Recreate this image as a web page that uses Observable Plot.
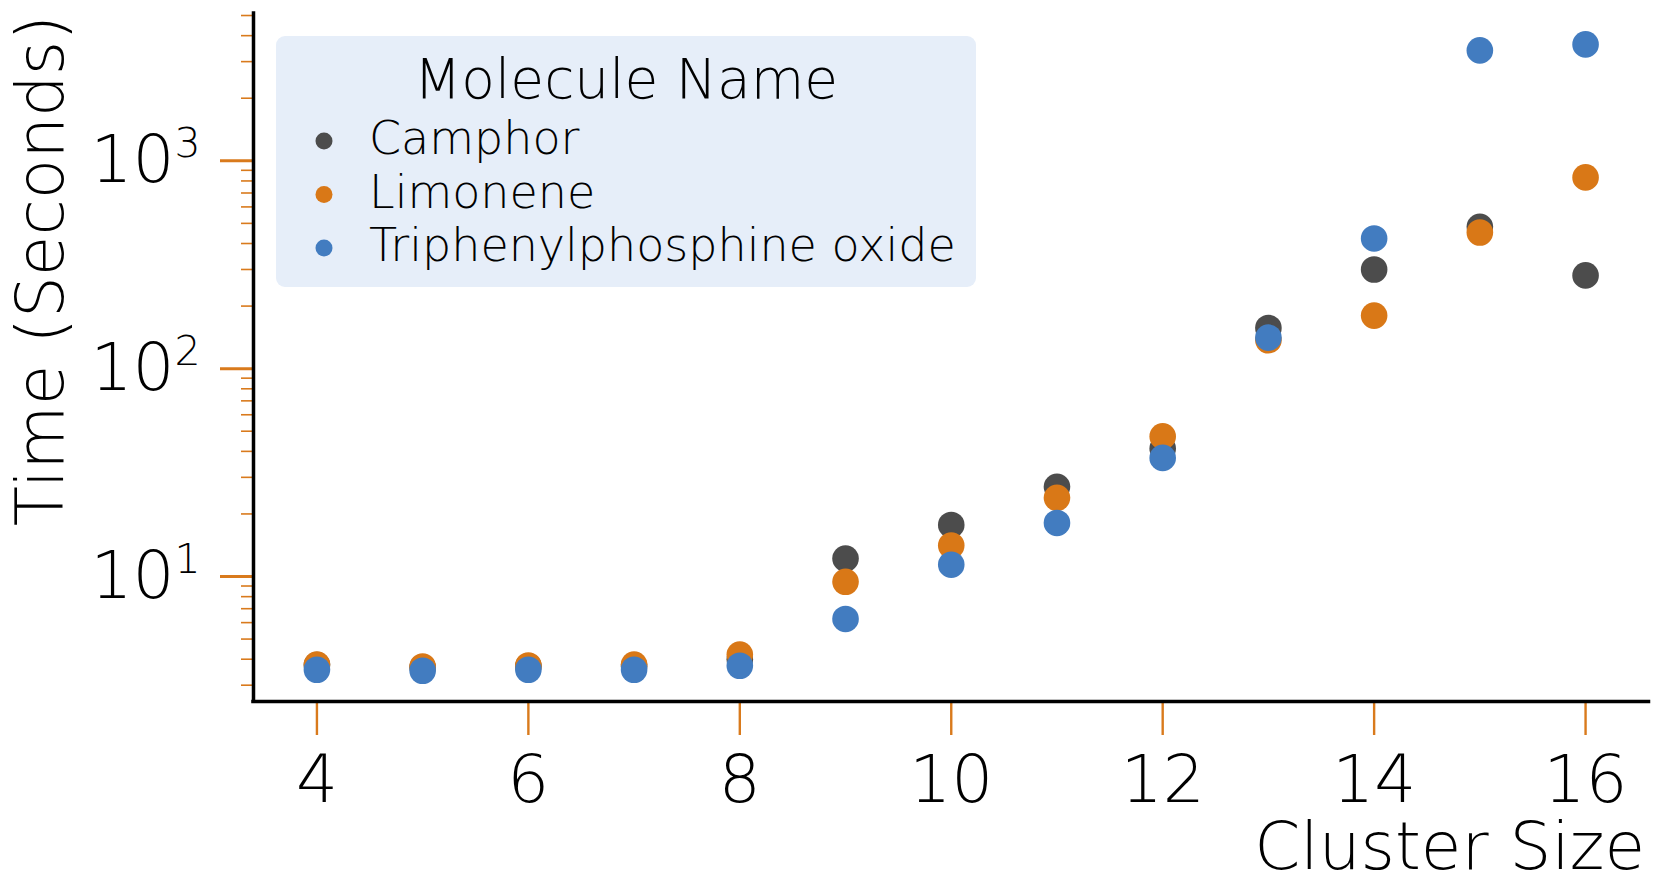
<!DOCTYPE html>
<html>
<head>
<meta charset="utf-8">
<script src="https://cdn.jsdelivr.net/npm/d3@7"></script>
<script src="https://cdn.jsdelivr.net/npm/@observablehq/plot@0.6"></script>
<style>
  html, body { margin: 0; padding: 0; background: #ffffff; }
  #chart { width: 1660px; height: 885px; }
  #chart svg text { font-weight: 200; }
</style>
</head>
<body>
<div id="chart"></div>
<script>
// ---- data ----
const clusterSizes = [4, 5, 6, 7, 8, 9, 10, 11, 12, 13, 14, 15, 16];
const moleculeNames = ["Camphor", "Limonene", "Triphenylphosphine oxide"];
const camphorTimes   = [3.75, 3.65, 3.7, 3.7, 4.0, 12.2, 17.7, 27.0, 41.2, 157, 300, 481, 281];
const limoneneTimes  = [3.77, 3.69, 3.73, 3.77, 4.21, 9.43, 14.1, 23.9, 47.2, 137, 180, 452, 832];
const tppoTimes      = [3.56, 3.52, 3.56, 3.56, 3.72, 6.25, 11.4, 18.1, 37.2, 141, 423, 3397, 3631];
const xTicks = [4, 6, 8, 10, 12, 14, 16];
const yMajorTicks = [10, 100, 1000];
const yMinorTicks = [3, 4, 5, 6, 7, 8, 9, 20, 30, 40, 50, 60, 70, 80, 90,
                     200, 300, 400, 500, 600, 700, 800, 900, 2000, 3000, 4000, 5000];
const seriesColors = ["#4c4c4c", "#d97817", "#427cc0"];
const tickColor = "#d97a1c";
const xTitle = "Cluster Size";
const yTitle = "Time (Seconds)";
const legendTitle = "Molecule Name";

const seriesValues = [camphorTimes, limoneneTimes, tppoTimes];
const rows = [];
moleculeNames.forEach((name, i) => {
  clusterSizes.forEach((s, j) => rows.push({size: s, time: seriesValues[i][j], name}));
});

const xDomain = [3.4, 16.6];
const yDomain = [2.504, 5113];
const font = "DejaVu Sans";

const plot = Plot.plot({
  width: 1660,
  height: 885,
  marginLeft: 253,
  marginRight: 11.5,
  marginTop: 13,
  marginBottom: 184,
  style: {fontFamily: font, fontSize: "66px", background: "#ffffff", color: "#000000"},
  x: {domain: xDomain},
  y: {type: "log", domain: yDomain},
  color: {domain: moleculeNames, range: seriesColors},
  marks: [
    Plot.axisX({ticks: xTicks, tickSize: 34, tickPadding: 20, stroke: tickColor, strokeWidth: 2.4,
                fill: "#000000", fontSize: 66, label: null, tickFormat: d => String(d)}),
    Plot.axisY({ticks: yMinorTicks, tickSize: 12, stroke: tickColor, strokeWidth: 1.6,
                tickFormat: () => "", label: null}),
    Plot.axisY({ticks: yMajorTicks, tickSize: 33, tickPadding: 20, stroke: tickColor, strokeWidth: 3,
                fill: "#000000", fontSize: 66, label: null,
                tickFormat: d => "10^" + Math.round(Math.log10(d))}),
    Plot.ruleX([xDomain[0]], {stroke: "#000000", strokeWidth: 3.5, strokeLinecap: "square"}),
    Plot.ruleY([yDomain[0]], {stroke: "#000000", strokeWidth: 3.5, strokeLinecap: "square"}),
    Plot.dot(rows, {x: "size", y: "time", fill: "name", r: 13.3})
  ]
});

document.getElementById("chart").appendChild(plot);
const svg = d3.select(plot);

// superscript exponent on y tick labels
svg.selectAll("text").each(function() {
  const t = d3.select(this);
  const s = t.text();
  const m = /^10\^(\d+)$/.exec(s);
  if (m) {
    t.text("");
    t.append("tspan").text("10");
    t.append("tspan").attr("font-size", "41px").attr("dy", "-25px").text(m[1]);
  }
});

// axis titles
svg.append("text")
  .attr("x", 1645).attr("y", 869)
  .attr("text-anchor", "end")
  .attr("font-family", font).attr("font-size", 66).attr("fill", "#000")
  .text(xTitle);

svg.append("text")
  .attr("transform", "translate(63,15) rotate(-90)")
  .attr("text-anchor", "end")
  .attr("font-family", font).attr("font-size", 66).attr("fill", "#000")
  .text(yTitle);

// legend
const lg = svg.append("g");
lg.append("rect")
  .attr("x", 276).attr("y", 36).attr("width", 700).attr("height", 251)
  .attr("rx", 9).attr("fill", "#e6eef9");
lg.append("text")
  .attr("x", 626).attr("y", 98).attr("text-anchor", "middle")
  .attr("font-family", font).attr("font-size", 55).attr("fill", "#000")
  .text(legendTitle);
moleculeNames.forEach((name, i) => {
  const base = 154 + i * 53.5;
  lg.append("circle").attr("cx", 324).attr("cy", base - 13).attr("r", 8.5).attr("fill", seriesColors[i]);
  lg.append("text").attr("x", 369).attr("y", base)
    .attr("text-anchor", "start")
    .attr("font-family", font).attr("font-size", 46).attr("fill", "#000")
    .text(name);
});
</script>
</body>
</html>
